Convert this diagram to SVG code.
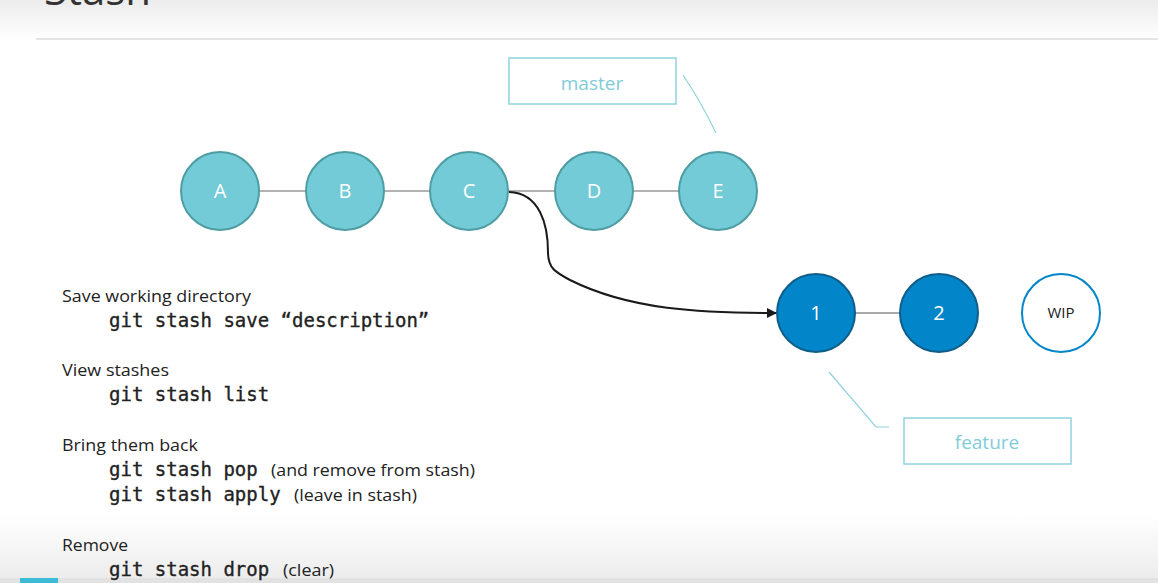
<svg xmlns="http://www.w3.org/2000/svg" width="1158" height="583" viewBox="0 0 1158 583">
<defs>
<linearGradient id="topg" x1="0" y1="0" x2="0" y2="1">
<stop offset="0" stop-color="#ececec"/>
<stop offset="1" stop-color="#ffffff"/>
</linearGradient>
<linearGradient id="botg" x1="0" y1="0" x2="0" y2="1">
<stop offset="0" stop-color="#ffffff"/>
<stop offset="1" stop-color="#ebebeb"/>
</linearGradient>
<marker id="arr" viewBox="0 0 10 10" refX="10" refY="5" markerWidth="10" markerHeight="10" markerUnits="userSpaceOnUse" orient="auto">
<path d="M0,0 L10,5 L0,10 z" fill="#1a1a1a"/>
</marker>
<style>
.m{fill:#72CBD6;stroke:#4E9DA3;stroke-width:2}
.f{fill:#0285C9;stroke:#0F5E8A;stroke-width:2}
.w{fill:#ffffff;stroke:#0285C9;stroke-width:2}
.nl{font-family:"Open Sans","Liberation Sans",sans-serif;font-size:20px;fill:#ffffff;text-anchor:middle}
.wl{font-family:"Open Sans","Liberation Sans",sans-serif;font-size:15px;fill:#1a1a1a;text-anchor:middle}
.lab{fill:#ffffff;stroke:#8FD3DC;stroke-width:1.5}
.lt{font-family:"Open Sans","Liberation Sans",sans-serif;font-size:19px;fill:#80CDD8;text-anchor:middle}
.lead{fill:none;stroke:#8FD3DC;stroke-width:1.2}
.edge{stroke:#999999;stroke-width:1.5}
.h{font-family:"Open Sans","Liberation Sans",sans-serif;font-size:16px;fill:#222222}
.c{font-family:"DejaVu Sans Mono","Liberation Mono",monospace;font-size:19px;fill:#222222;stroke:#222222;stroke-width:0.35}
.p{font-family:"Open Sans","Liberation Sans",sans-serif;font-size:16px;fill:#222222}
</style>
</defs>
<rect x="0" y="0" width="1158" height="583" fill="#ffffff"/>
<rect x="0" y="0" width="1158" height="40" fill="url(#topg)"/>
<rect x="0" y="515" width="1158" height="68" fill="url(#botg)"/>
<rect x="0" y="578" width="1158" height="5" fill="#e2e2e2"/>
<rect x="20" y="578" width="38" height="5" fill="#3BBCD4"/>
<text x="44" y="5" font-family="Open Sans, Liberation Sans, sans-serif" font-size="42" fill="#333333">Stash</text>
<line x1="36" y1="39" x2="1158" y2="39" stroke="#e4e4e4" stroke-width="2"/>

<g id="connectors">
<line class="edge" x1="259" y1="191" x2="306" y2="191"/>
<line class="edge" x1="384" y1="191" x2="430" y2="191"/>
<line class="edge" x1="508" y1="191" x2="555" y2="191"/>
<line class="edge" x1="633" y1="191" x2="679" y2="191"/>
<line x1="855" y1="313" x2="900" y2="313" stroke="#555555" stroke-width="1"/>
<path d="M509,192 C540,193 548,225 548,252 C548,268 555,272 570,280 C630,310 700,313 777,313" fill="none" stroke="#1a1a1a" stroke-width="2" marker-end="url(#arr)"/>
<path class="lead" d="M683,75 Q700,100 716,133"/>
<path class="lead" d="M829,372 L876,427 L889,427"/>
</g>

<g id="node-A"><circle class="m" cx="220" cy="191" r="39"/><text class="nl" x="220" y="198">A</text></g>
<g id="node-B"><circle class="m" cx="345" cy="191" r="39"/><text class="nl" x="345" y="198">B</text></g>
<g id="node-C"><circle class="m" cx="469" cy="191" r="39"/><text class="nl" x="469" y="198">C</text></g>
<g id="node-D"><circle class="m" cx="594" cy="191" r="39"/><text class="nl" x="594" y="198">D</text></g>
<g id="node-E"><circle class="m" cx="718" cy="191" r="39"/><text class="nl" x="718" y="198">E</text></g>
<g id="node-1"><circle class="f" cx="816" cy="313" r="39"/><text class="nl" x="816" y="320">1</text></g>
<g id="node-2"><circle class="f" cx="939" cy="313" r="39"/><text class="nl" x="939" y="320">2</text></g>
<g id="node-WIP"><circle class="w" cx="1061" cy="313" r="39"/><text class="wl" x="1061" y="318">WIP</text></g>
<g id="label-master"><rect class="lab" x="509" y="58" width="167" height="46"/><text class="lt" x="592" y="90">master</text></g>
<g id="label-feature"><rect class="lab" x="904" y="418" width="167" height="46"/><text class="lt" x="987" y="449">feature</text></g>

<g id="text">
<text class="h" x="62" y="302" textLength="189" lengthAdjust="spacingAndGlyphs">Save working directory</text>
<text class="c" x="109" y="327">git stash save “description”</text>
<text class="h" x="62" y="376" textLength="107" lengthAdjust="spacingAndGlyphs">View stashes</text>
<text class="c" x="109" y="401">git stash list</text>
<text class="h" x="62" y="451" textLength="136" lengthAdjust="spacingAndGlyphs">Bring them back</text>
<text class="c" x="109" y="476">git stash pop</text>
<text class="p" x="271" y="476" textLength="204" lengthAdjust="spacingAndGlyphs">(and remove from stash)</text>
<text class="c" x="109" y="501">git stash apply</text>
<text class="p" x="294" y="501" textLength="123" lengthAdjust="spacingAndGlyphs">(leave in stash)</text>
<text class="h" x="62" y="551" textLength="66" lengthAdjust="spacingAndGlyphs">Remove</text>
<text class="c" x="109" y="576">git stash drop</text>
<text class="p" x="283" y="576" textLength="51" lengthAdjust="spacingAndGlyphs">(clear)</text>
</g>
</svg>
